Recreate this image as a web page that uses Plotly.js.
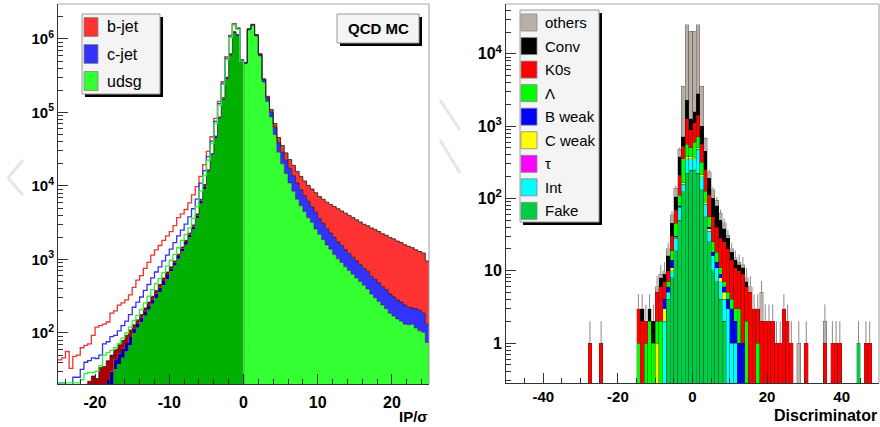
<!DOCTYPE html>
<html><head><meta charset="utf-8">
<script src="https://cdn.plot.ly/plotly-3.0.1.min.js"></script>
<style>html,body{margin:0;padding:0;background:#fff}#chart{width:880px;height:427px}</style>
</head><body><div id="chart"></div>
<script>
// ================= LEFT PANEL DATA (IP/sigma, 0.5-wide bins) =================
const ipBinWidth = 0.5;
const negStart = -25;   // negative half: bins from -25 to 0
const posStart = 0;     // positive half: bins from 0 to 25
// stacked fill, negative side
const negBjet = [6,6,7,7,8,8,9,10, 11,13,12,16,16,19,20,15, 17,18,20,22,13,15,17,21, 25,30,36,43,52,62,40,48, 59,74,91,115,148,208,330,520, 330,550,960,1740,3200,6000,12600,25000, 23000,10000];
const negCjet = [3,3,3,4,4,5,5,6, 6,7,7,10,10,12,14,12, 14,15,17,20,16,18,21,26, 31,37,44,53,65,78,64,76, 94,118,146,183,236,334,529,840, 660,1100,1910,3480,6300,12000,25200,50000, 46000,20000];
const negUdsg = [2,2,2,2,3,3,4,4, 5,6,5,8,9,11,16,32, 38,46,56,68,100,118,140,172, 207,249,300,361,445,536,690,831, 1022,1287,1583,1993,2567,3627,5748,9110, 15610,25890,44990,81880,149000,284000,593200,1184000, 1079000,483000];
// outline histograms, negative side
const negBjetOutline = [43,46,56,33,48,50,63,68, 71,93,120,126,132,141,186,200, 240,257,282,331,417,525,603,759, 912,1148,1349,1549,1820,2089,2399,2884, 3715,4169,4786,5888,7586,9772,13490,19500, 29510,46770,83180,141300,263000,575400,1122000,1622000, 1413000,524800];
const negCjetOutline = [21,21,18,18,25,25,32,40, 42,46,45,50,71,76,89,93, 107,126,145,178,224,263,309,380, 457,562,676,794,955,1148,1380,1698, 2089,2512,3020,3802,4898,6607,10960,16220, 25120,40740,75860,131800,251200,549500,1096000,1585000, 1380000,512900];
const negUdsgOutline = [21,21,21,21,21,21,23,28, 29,29,30,36,50,54,58,63, 72,85,100,120,148,174,209,257, 316,389,468,550,661,813,977,1175, 1445,1820,2188,2692,3631,5248,8511,13800, 22390,38020,70790,125900,239900,524800,1047000,1549000, 1349000,501200];
// stacked fill, positive side
const posBjet = [6000,15000,18000,21000,14000,9000,8000,8000, 7700,6800,6700,5800,5500,5300,4800,4600, 4300,4000,3900,3700,3600,3500,3400,3330, 3250,3160,3020,2920,2780,2650,2510,2390, 2260,2190,2100,2030,1920,1810,1750,1660, 1600,1500,1440,1345,1290,1230,1140,1080, 1040,823];
const posCjet = [11000,31000,36000,31000,28000,19000,17000,15000, 13000,10100,8800,7600,6400,5300,4400,3500, 2900,2500,2000,1800,1400,1240,1050,910, 830,720,638,556,492,440,393,350, 312,294,250,235,210,187,175,153, 139,127,118,108,95,87,97,97, 84,58];
const posUdsg = [462000,1334000,1531000,1096000,589000,260000,141000,87000, 50100,28800,20000,14800,11000,8500,6600,5400, 4500,3700,3200,2600,2200,1860,1580,1380, 1170,1020,912,794,708,631,562,501, 447,398,339,302,269,240,214,186, 170,155,145,132,129,132,117,107, 102,74];
const leftLegend = ['b-jet','c-jet','udsg'];
const leftYTicks = [100,1000,10000,100000,1000000];
const leftYTickText = ['10<sup>2</sup>','10<sup>3</sup>','10<sup>4</sup>','10<sup>5</sup>','10<sup>6</sup>'];
const leftXTicks = [-20,-10,0,10,20];

// ================= RIGHT PANEL DATA (Discriminator, 1-wide bins) =================
const discrBinCenters = [-27.5,-24.5,-14.5,-13.5,-12.5,-11.5,-10.5,-9.5,-8.5,-7.5,-6.5,-5.5,-4.5,-3.5,-2.5,-1.5,-0.5,0.5,1.5,2.5,3.5,4.5,5.5,6.5,7.5,8.5,9.5,10.5,11.5,12.5,13.5,14.5,15.5,16.5,17.5,18.5,19.5,20.5,21.5,22.5,23.5,24.5,25.5,26.5,28.5,30.5,35.5,37.5,38.5,39.5,44.5,46.5,47.5];
const fakeCounts   = [0,0,0,0,0,0,0,0,0,0,4,8,19,50,123,224,245,251,224,132,56,25,10,7,4,2,0,0,0,0,0,0,0,0,0,0,0,0,0,0,0,0,0,0,0,0,0,0,0,0,1,0,0];
const intCounts    = [0,0,0,0,0,0,0,0,0,2,1,2,9,25,35,131,110,104,255,68,27,10,6,4,3,2,3,1,1,0,0,0,0,0,0,0,0,0,0,0,0,0,0,0,0,0,0,0,0,0,0,0,0];
const tauCounts    = [0,0,0,0,0,0,0,0,0,0,0,0,0,0,0,0,0,0,0,0,0,0,0,0,0,0,0,0,0,0,0,0,0,0,0,0,0,0,0,0,0,0,0,0,0,0,0,0,0,0,0,0,0];
const cWeakCounts  = [0,0,0,0,0,0,0,1,0,1,0,1,1,2,8,25,25,17,22,14,6,3,0,0,1,1,0,0,0,0,0,0,0,0,0,0,0,0,0,0,0,0,0,0,0,0,0,0,0,0,0,0,0];
const bWeakCounts  = [0,0,0,0,0,0,0,0,0,1,1,3,1,2,0,0,0,0,0,0,0,2,2,2,1,1,1,2,1,1,1,0,0,0,0,0,0,0,0,0,0,0,0,0,0,0,0,0,0,0,0,0,0];
const lambdaCounts = [0,0,1,0,1,2,1,1,2,0,1,5,15,31,189,182,121,231,207,102,37,16,7,5,2,1,1,1,1,2,0,2,0,0,1,0,0,0,0,0,0,0,0,0,0,0,0,0,0,0,0,0,0];
const k0sCounts    = [1,1,2,2,1,0,0,3,4,3,3,11,24,100,170,697,390,519,705,246,125,56,31,22,17,18,15,10,8,7,8,4,5,3,2,2,2,2,2,1,1,3,2,1,0,1,1,1,1,1,0,1,1];
const convCounts   = [0,0,0,1,0,1,1,0,2,2,6,15,36,170,183,1032,368,463,1405,438,196,79,44,39,22,13,8,4,3,2,2,1,0,0,0,0,0,0,0,0,0,0,0,0,0,0,0,0,0,0,0,0,0];
const othersCounts = [0,0,0,0,0,0,0,1,1,1,4,14,33,100,2840,22828,19158,18832,22301,2548,229,43,32,16,12,8,3,2,1,1,1,1,1,0,0,3,0,0,0,0,0,0,0,0,1,0,1,0,0,0,0,0,0];
const rightLegend = ['others','Conv','K0s','Λ','B weak','C weak','τ','Int','Fake'];
const rightYTicks = [1,10,100,1000,10000];
const rightYTickText = ['1','10','10<sup>2</sup>','10<sup>3</sup>','10<sup>4</sup>'];
const rightXTicks = [-40,-20,0,20,40];

// ================= helpers =================
const W = 880, H = 427;
const px = v => v / W, py = v => 1 - v / H;
function edges(start, n, w){ const e=[]; for(let i=0;i<=n;i++) e.push(start+i*w); return e; }
function step(start, vals){ return {x: edges(start, vals.length, ipBinWidth), y: vals.concat([vals[vals.length-1]])}; }
function add(...arrs){ return arrs[0].map((_,i)=>arrs.reduce((s,a)=>s+a[i],0)); }
function base(start, n){ const e = edges(start, n, ipBinWidth); return {type:'scatter',mode:'lines',x:e,y:e.map(()=>0.01),line:{width:0},hoverinfo:'skip',xaxis:'x',yaxis:'y'}; }
function fillT(start, vals, color){ const s=step(start, vals); return {type:'scatter',mode:'lines',x:s.x,y:s.y,line:{width:0,shape:'hv'},fill:'tonexty',fillcolor:color,hoverinfo:'skip',xaxis:'x',yaxis:'y'}; }
function lineT(start, vals, color, width, drop){ const s=step(start, vals); if(drop){ s.x.push(s.x[s.x.length-1]); s.y.push(0.01); } return {type:'scatter',mode:'lines',x:s.x,y:s.y,line:{color:color,width:width,shape:'hv'},hoverinfo:'skip',xaxis:'x',yaxis:'y'}; }

const cN1 = negUdsg, cN2 = add(negUdsg,negCjet), cN3 = add(negUdsg,negCjet,negBjet);
const cP1 = posUdsg, cP2 = add(posUdsg,posCjet), cP3 = add(posUdsg,posCjet,posBjet);

const data = [
  base(negStart, negUdsg.length),
  fillT(negStart, cN1, '#00b000'),
  fillT(negStart, cN2, '#000099'),
  fillT(negStart, cN3, '#aa0000'),
  base(posStart, posUdsg.length),
  fillT(posStart, cP1, '#33ff33'),
  fillT(posStart, cP2, '#3333ff'),
  fillT(posStart, cP3, '#ff3333'),
  lineT(negStart, cN3, 'rgba(20,20,20,0.85)', 0.8),
  lineT(posStart, cP1, 'rgba(20,20,20,0.6)', 0.7),
  lineT(posStart, cP2, 'rgba(20,20,20,0.85)', 0.8),
  lineT(posStart, cP3, 'rgba(20,20,20,0.85)', 0.9),
  lineT(negStart, negBjetOutline, '#ee3333', 1.3, true),
  lineT(negStart, negCjetOutline, '#3333ee', 1.3, true),
  lineT(negStart, negUdsgOutline, '#33ee33', 1.3, true)
];

const rightSeries = [fakeCounts,intCounts,tauCounts,cWeakCounts,bWeakCounts,lambdaCounts,k0sCounts,convCounts,othersCounts];
const rightColors = ['#00cc44','#00ffff','#ff00ff','#ffff00','#0000ff','#00ff00','#ff0000','#000000','#b8afa6'];
rightSeries.forEach((vals,i)=>{
  data.push({type:'bar',x:discrBinCenters,y:vals.map(v=>v>0?v:null),width:1,
    marker:{color:rightColors[i],line:{color:'rgba(30,30,30,0.65)',width:0.4}},
    hoverinfo:'skip',xaxis:'x2',yaxis:'y2'});
});
const totals = add(...rightSeries);
data.push({type:'scatter',mode:'markers',x:discrBinCenters,y:totals,marker:{size:1,color:'rgba(0,0,0,0)'},
  error_y:{type:'data',symmetric:false,array:totals.map(Math.sqrt),arrayminus:totals.map(()=>0),color:'#8a8a8a',thickness:1,width:0},
  hoverinfo:'skip',xaxis:'x2',yaxis:'y2'});

// minor tick positions
function logMinor(d0,d1,lo,hi){ const t=[]; for(let d=d0; d<=d1; d++) for(let m=2;m<=9;m++){ const v=m*Math.pow(10,d); if(v>=lo&&v<=hi) t.push(v);} return t; }
const bold = s => '<b>'+s+'</b>';
const font = 'Liberation Sans, Arial, Helvetica, sans-serif';

const axisCommon = {showgrid:false, zeroline:false, showline:true, linecolor:'#333', linewidth:1, ticks:'inside', tickcolor:'#333', automargin:false, fixedrange:true};

const shapes = [];
const annotations = [];
function rect(x0,y0,x1,y1,fill,line,lw){ shapes.push({type:'rect',xref:'paper',yref:'paper',x0:px(x0),x1:px(x1),y0:py(y1),y1:py(y0),fillcolor:fill,line:{color:line||fill,width:lw===undefined?0:lw},layer:'above'}); }
function seg(x0,y0,x1,y1,color,w){ shapes.push({type:'line',xref:'paper',yref:'paper',x0:px(x0),x1:px(x1),y0:py(y0),y1:py(y1),line:{color:color,width:w},layer:'above'}); }
function text(t,x,y,size,xa,b){ annotations.push({xref:'paper',yref:'paper',x:px(x),y:py(y),text:b?bold(t):t,showarrow:false,xanchor:xa||'left',yanchor:'middle',font:{family:font,size:size,color:'#000'}}); }

// frames (gray top/right)
seg(58,4,429,4,'#aaaaaa',1.2); seg(429,4,429,384,'#999999',1);
seg(506,4,879,4,'#aaaaaa',1.2); seg(879,4,879,383,'#999999',1);
// faint watermark strokes
seg(23,160,8,178,'#e6e6e6',3); seg(8,178,23,195,'#e6e6e6',3);
seg(440,100,460,130,'#e6e6e6',3); seg(440,140,460,173,'#e6e6e6',3);

// left legend
rect(85,17,163,97,'#000000');
rect(82,14,160,94,'#f4f4f4','#9a9a9a',1);
const leftColors = ['#ff3333','#3333ff','#33ff33'];
leftLegend.forEach((l,i)=>{ const cy = 27 + 27*i; rect(84,cy-9.5,98,cy+9.5,leftColors[i],'#888',0.8); text(l,105,cy,16); });
// QCD MC label
rect(340,17,422,46,'#000000');
rect(337,14,419,43,'#f4f4f4','#9a9a9a',1);
text('QCD MC',378,29,15,'center',true);
// right legend
rect(523,13,602,225,'#000000');
rect(520,10,599,222,'#f4f4f4','#9a9a9a',1);
const legColorsTopDown = rightColors.slice().reverse();
rightLegend.forEach((l,i)=>{ const cy = 22.5 + 23.55*i; rect(521,cy-8.5,537,cy+8.5,legColorsTopDown[i],'#888',0.8); text(l,543,cy,15); });
// axis titles
text('IP/σ',430,416,15,'right',true);
text('Discriminator',879,415,16,'right',true);

const layout = {
  width:W, height:H, margin:{l:0,r:0,t:0,b:0}, paper_bgcolor:'#ffffff', plot_bgcolor:'#ffffff',
  showlegend:false, barmode:'stack', bargap:0, font:{family:font,color:'#000'},
  xaxis:Object.assign({}, axisCommon, {domain:[px(58),px(429)], anchor:'y', range:[-25,25],
    tickmode:'array', tickvals:leftXTicks, ticktext:leftXTicks.map(v=>bold(String(v))), ticklen:10,
    tickfont:{size:16,family:font}, ticklabelstandoff:4,
    minor:{tickmode:'array', tickvals:[-24,-22,-18,-16,-14,-12,-8,-6,-4,-2,2,4,6,8,12,14,16,18,22,24], ticks:'inside', ticklen:5, tickcolor:'#333', showgrid:false}}),
  yaxis:Object.assign({}, axisCommon, {domain:[py(384),py(4)], anchor:'x', type:'log', range:[1.306,6.476],
    tickmode:'array', tickvals:leftYTicks, ticktext:leftYTickText.map(bold), ticklen:10,
    tickfont:{size:15,family:font},
    minor:{tickmode:'array', tickvals:logMinor(1,6,20,3e6), ticks:'inside', ticklen:5, tickcolor:'#333', showgrid:false}}),
  xaxis2:Object.assign({}, axisCommon, {domain:[px(506),px(879)], anchor:'y2', range:[-50,50],
    tickmode:'array', tickvals:rightXTicks, ticktext:rightXTicks.map(v=>bold(String(v))), ticklen:10,
    tickfont:{size:15,family:font}, ticklabelstandoff:0,
    minor:{tickmode:'array', tickvals:[-50,-45,-35,-30,-25,-15,-10,-5,5,10,15,25,30,35,45,50], ticks:'inside', ticklen:5, tickcolor:'#333', showgrid:false}}),
  yaxis2:Object.assign({}, axisCommon, {domain:[py(383),py(4)], anchor:'x2', type:'log', range:[-0.553,4.689],
    tickmode:'array', tickvals:rightYTicks, ticktext:rightYTickText.map(bold), ticklen:10,
    tickfont:{size:16,family:font},
    minor:{tickmode:'array', tickvals:logMinor(-1,4,0.28,49000), ticks:'inside', ticklen:5, tickcolor:'#333', showgrid:false}}),
  shapes:shapes, annotations:annotations
};

Plotly.newPlot('chart', data, layout, {staticPlot:true, displayModeBar:false});
</script>
</body></html>
